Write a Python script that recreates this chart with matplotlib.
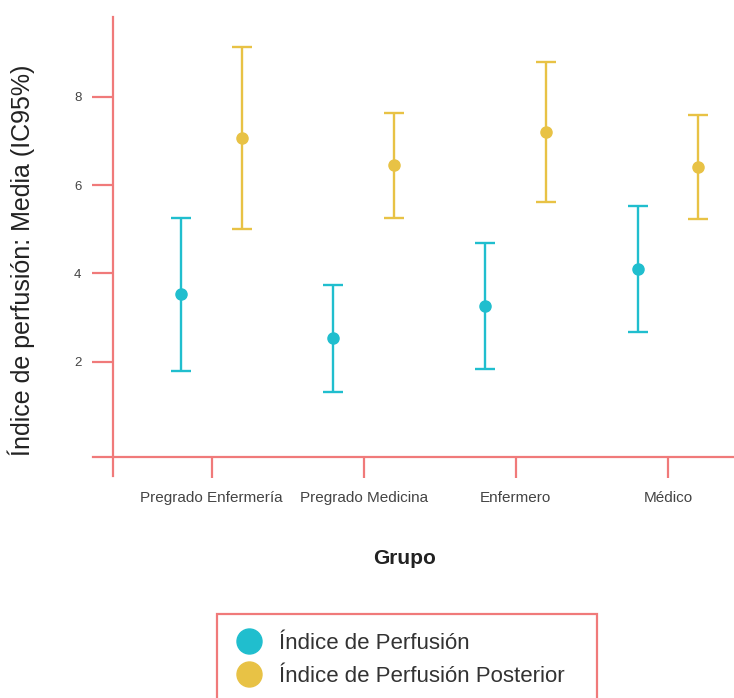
import matplotlib
matplotlib.use("Agg")
import matplotlib.pyplot as plt
import numpy as np
from matplotlib.lines import Line2D
from matplotlib.patches import Rectangle

plt.rcParams["font.family"] = ["Liberation Sans", "DejaVu Sans"]

# Group labels and CI summaries (mean, lower, upper)
grupos = ["Pregrado Enfermería", "Pregrado Medicina", "Enfermero", "Médico"]

ip_media = [3.53, 2.53, 3.26, 4.11]
ip_inf = [1.80, 1.32, 1.83, 2.68]
ip_sup = [5.25, 3.74, 4.70, 5.53]

ipp_media = [7.07, 6.45, 7.21, 6.42]
ipp_inf = [5.01, 5.26, 5.62, 5.23]
ipp_sup = [9.12, 7.64, 8.80, 7.59]

y_ticks = [2, 4, 6, 8]

cyan = "#20BECE"
gold = "#E8C245"
axis_red = "#F07A7A"

W, H = 734, 698
fig = plt.figure(figsize=(W / 100, H / 100), dpi=100)
ax = fig.add_axes([93 / W, 1 - 476 / H, (W - 93) / W, (476 - 17) / H])

x = np.arange(1, len(grupos) + 1)
dodge = 0.2


def draw_ci(xpos, media, inf, sup, color):
    media = np.array(media)
    err = [media - np.array(inf), np.array(sup) - media]
    ax.errorbar(xpos, media, yerr=err, fmt="o", color=color, ecolor=color,
                elinewidth=1.7, capsize=7.5, capthick=1.7, markersize=8,
                clip_on=False, zorder=3)


draw_ci(x - dodge, ip_media, ip_inf, ip_sup, cyan)
draw_ci(x + dodge, ipp_media, ipp_inf, ipp_sup, gold)

ax.set_xlim(0.22, 4.434)
ax.set_ylim(-0.589, 9.81)

# crossed axis lines
for s in ["top", "right"]:
    ax.spines[s].set_visible(False)
ax.spines["left"].set_position(("data", 0.353))
ax.spines["bottom"].set_position(("data", -0.15))
for s in ["left", "bottom"]:
    ax.spines[s].set_color(axis_red)
    ax.spines[s].set_linewidth(1.6)

ax.set_xticks(x)
ax.set_xticklabels(grupos, fontsize=11, color="#444444")
ax.set_yticks(y_ticks)
ax.set_yticklabels([str(v) for v in y_ticks], fontsize=9.5, color="#444444")
ax.tick_params(axis="both", direction="out", length=15, width=1.6, color=axis_red)
ax.tick_params(axis="x", pad=10)
ax.tick_params(axis="y", pad=8)

ax.set_ylabel("Índice de perfusión: Media (IC95%)", fontsize=18, color="#222222")
ax.yaxis.set_label_coords((35 - 93) / (W - 93), (476 - 260) / (476 - 17))

fig.text(405 / W, 1 - 558 / H, "Grupo", ha="center", va="center", fontsize=15,
         fontweight="bold", color="#222222")

# legend box at the bottom
fig.patches.append(Rectangle((217 / W, 1 - 710 / H), (597 - 217) / W, (710 - 614) / H,
                             transform=fig.transFigure, fill=False, edgecolor=axis_red,
                             linewidth=1.6))
handles = [Line2D([], [], marker="o", linestyle="none", color=cyan, markersize=18),
           Line2D([], [], marker="o", linestyle="none", color=gold, markersize=18)]
fig.legend(handles, ["Índice de Perfusión", "Índice de Perfusión Posterior"],
           loc="upper left", bbox_to_anchor=(227 / W, 1 - 622 / H), frameon=False,
           fontsize=16, handletextpad=0.85, labelspacing=0.52, borderpad=0,
           handlelength=1.0, labelcolor="#333333")

fig.savefig("out.png", dpi=100)
